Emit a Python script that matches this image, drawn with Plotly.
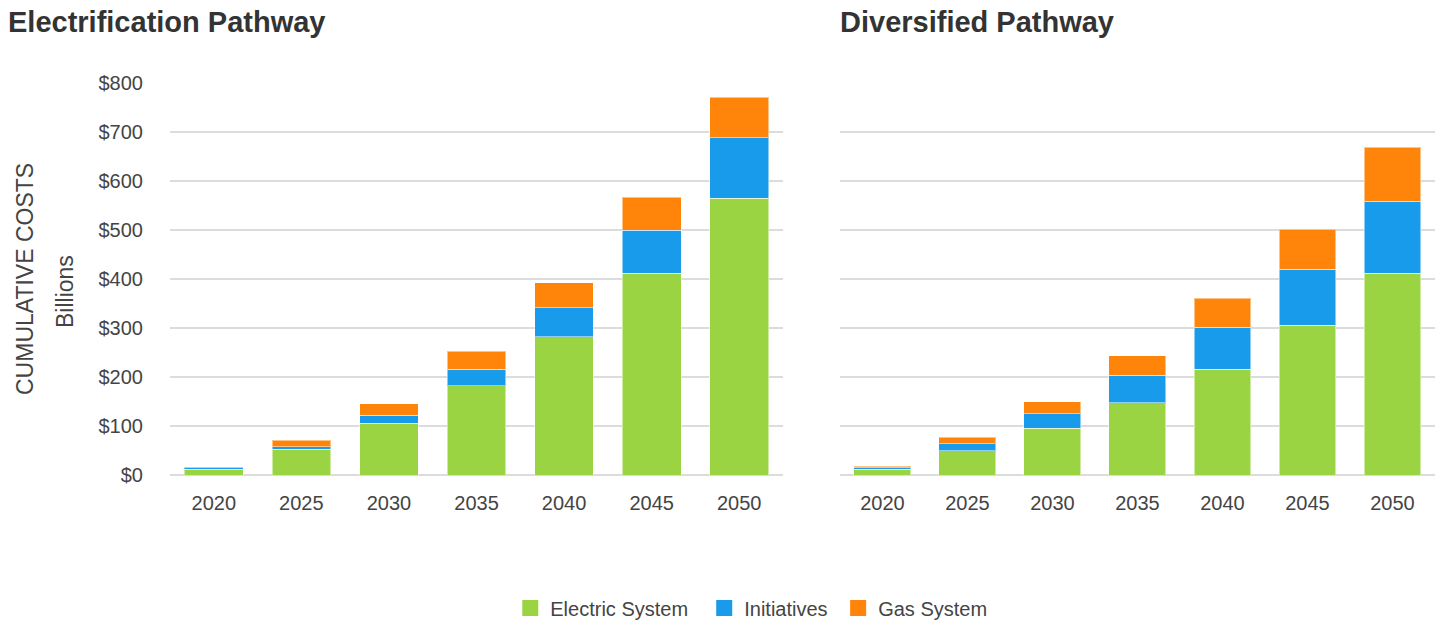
import plotly.graph_objects as go

years = ["2020", "2025", "2030", "2035", "2040", "2045", "2050"]

elec_electric = [12, 53, 106, 182, 282, 412, 565]
elec_initiatives = [3, 5, 16, 34, 59, 88, 123]
elec_gas = [2, 13, 23, 37, 51, 67, 83]

div_electric = [12, 50, 95, 147, 216, 306, 412]
div_initiatives = [3, 14, 30, 57, 86, 114, 147]
div_gas = [3, 13, 25, 39, 59, 82, 110]

series_names = ["Electric System", "Initiatives", "Gas System"]
legend_pad = ["  ", " ", ""]
colors = ["#9BD443", "#179BEA", "#FF840A"]

FONT = "Liberation Sans Narrow, Arial Narrow, Liberation Sans, Arial, sans-serif"
TXT = "#444444"

fig = go.Figure()
left = [elec_electric, elec_initiatives, elec_gas]
right = [div_electric, div_initiatives, div_gas]
for i, name in enumerate(series_names):
    fig.add_trace(go.Bar(x=years, y=left[i], name=name, marker_color=colors[i],
                         marker_line_color="rgba(255,255,255,0.5)", marker_line_width=1,
                         xaxis="x", yaxis="y", legendgroup=name, showlegend=False))
for i, name in enumerate(series_names):
    fig.add_trace(go.Bar(x=years, y=right[i], name=name, marker_color=colors[i],
                         marker_line_color="rgba(255,255,255,0.5)", marker_line_width=1,
                         xaxis="x2", yaxis="y2", legendgroup=name, showlegend=False))
# legend entries (square swatches)
for i, name in enumerate(series_names):
    fig.add_trace(go.Scatter(x=[None], y=[None], mode="markers", name=name + legend_pad[i],
                             marker=dict(symbol="square", size=18, color=colors[i]),
                             xaxis="x", yaxis="y", legendgroup=name, showlegend=True))

axis_common = dict(showgrid=False, showline=False, ticks="", tickfont=dict(size=20, color=TXT, family=FONT))
yaxis_common = dict(range=[0, 800], dtick=100, showgrid=True, gridcolor="#DCDCDC", gridwidth=2,
                    zeroline=True, zerolinecolor="#DCDCDC", zerolinewidth=2, showline=False, ticks="")

PH = 392.0
def py(p):
    return (475 - p) / PH

fig.update_layout(
    width=1442, height=622,
    margin=dict(l=170, r=7, t=83, b=147),
    paper_bgcolor="white", plot_bgcolor="white",
    barmode="stack", bargap=0.33,
    font=dict(family=FONT, color=TXT, size=20),
    xaxis=dict(domain=[0, 0.4846], anchor="y", ticklabelstandoff=14, **axis_common),
    xaxis2=dict(domain=[0.5296, 1.0], anchor="y2", ticklabelstandoff=14, **axis_common),
    yaxis=dict(anchor="x", tickprefix="$", tickfont=dict(size=20, color=TXT, family=FONT),
               ticklabelstandoff=26, **yaxis_common),
    yaxis2=dict(anchor="x2", showticklabels=False, **yaxis_common),
    legend=dict(orientation="h", xref="container", x=0.521, xanchor="center",
                yref="container", y=(622 - 608) / 622, yanchor="middle",
                font=dict(size=20, color=TXT, family=FONT), traceorder="normal",
                itemsizing="trace"),
    showlegend=True,
    annotations=[
        dict(text="<b>Electrification Pathway</b>", xref="paper", yref="paper",
             x=(6 - 170) / 1265, xanchor="left", y=py(22), yanchor="middle", showarrow=False,
             font=dict(size=29, color="#333", family="Liberation Sans, Arial, sans-serif")),
        dict(text="<b>Diversified Pathway</b>", xref="paper", yref="paper",
             x=(838 - 170) / 1265, xanchor="left", y=py(22), yanchor="middle", showarrow=False,
             font=dict(size=29, color="#333", family="Liberation Sans, Arial, sans-serif")),
        dict(text="CUMULATIVE COSTS", xref="paper", yref="paper", x=(25 - 170) / 1265, xanchor="center",
             y=py(279), yanchor="middle", textangle=-90, showarrow=False,
             font=dict(size=23, color=TXT, family=FONT)),
        dict(text="Billions", xref="paper", yref="paper", x=(65 - 170) / 1265, xanchor="center",
             y=py(291), yanchor="middle", textangle=-90, showarrow=False,
             font=dict(size=23, color=TXT, family=FONT)),
    ],
)

fig.write_html("out.html", config={"displayModeBar": False},
               post_script="document.body.style.margin='0px';")
